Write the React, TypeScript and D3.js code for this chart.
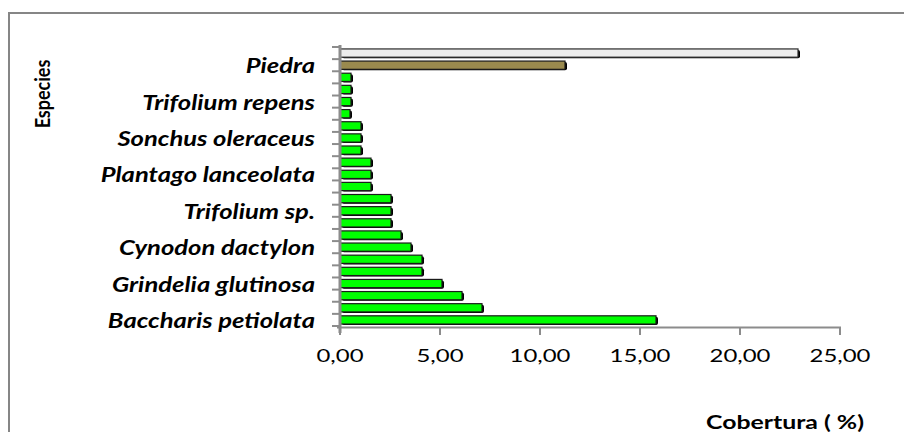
import React from "react";
import * as d3 from "d3";

// Categories top to bottom (only every third label is shown, as in the original)
const categories: string[] = [
  "", "Piedra", "", "", "Trifolium repens", "", "", "Sonchus oleraceus", "", "",
  "Plantago lanceolata", "", "", "Trifolium sp.", "", "", "Cynodon dactylon", "", "",
  "Grindelia glutinosa", "", "", "Baccharis petiolata",
];
const cobertura: number[] = [
  22.9, 11.25, 0.55, 0.55, 0.55, 0.5, 1.05, 1.05, 1.05, 1.55, 1.55, 1.55,
  2.55, 2.55, 2.55, 3.05, 3.55, 4.1, 4.1, 5.1, 6.1, 7.1, 15.8,
];
const xTicks: number[] = [0, 5, 10, 15, 20, 25];
const xTickLabels: string[] = ["0,00", "5,00", "10,00", "15,00", "20,00", "25,00"];

const barFill = (i: number) => (i === 0 ? "#EDEDED" : i === 1 ? "#9A8A4E" : "#00FF00");
const barStroke = (i: number) => (i === 0 ? "#2a2a2a" : "#1a1a1a");

const W = 904, H = 432;

export default function App() {
  const x = d3.scaleLinear().domain([0, 25]).range([340, 840]);
  const idx = categories.map((_, i) => i);
  const y = d3.scaleBand<number>().domain(idx).range([47, 326]).paddingInner(0.32).paddingOuter(0.16);
  const bandTop = 47;
  const boundaries = d3.range(categories.length + 1).map((k) => bandTop + k * (279 / categories.length));

  const labelFont = "Lato, 'Open Sans', sans-serif";
  return (
    <svg width={W} height={H} style={{ position: "absolute", left: 0, top: 0 }}>
      <rect x={0} y={0} width={W} height={H} fill="#fff" />
      {/* outer frame */}
      <rect x={9} y={13} width={1000} height={1000} fill="none" stroke="#868686" strokeWidth={2} />

      {/* bars */}
      {cobertura.map((v, i) => {
        const by = y(i)!;
        const bh = y.bandwidth();
        const bw = x(v) - x(0);
        return (
          <g key={i}>
            <rect x={x(0) + 2} y={by + 1} width={bw} height={bh} rx={2} fill="#000" />
            <rect x={x(0)} y={by} width={bw} height={bh} fill={barFill(i)} stroke={barStroke(i)} strokeWidth={1.2} />
          </g>
        );
      })}

      {/* y axis */}
      <line x1={340} x2={340} y1={45} y2={333} stroke="#8c8c8c" strokeWidth={3} />
      {boundaries.map((b, k) => (
        <line key={k} x1={332} x2={340} y1={b} y2={b} stroke="#8c8c8c" strokeWidth={2} />
      ))}
      {/* x axis */}
      <line x1={337} x2={841} y1={327.5} y2={327.5} stroke="#8c8c8c" strokeWidth={2} />
      {xTicks.map((t) => (
        <line key={t} x1={x(t)} x2={x(t)} y1={327} y2={335} stroke="#8c8c8c" strokeWidth={2} />
      ))}
      {xTicks.map((t, k) => (
        <text key={"l" + t} transform={`translate(${x(t)},362) scale(1.33,1)`} textAnchor="middle"
          fontFamily={labelFont} fontSize={18} fill="#000">{xTickLabels[k]}</text>
      ))}

      {/* category labels */}
      {categories.map((c, i) =>
        c ? (
          <text key={"c" + i} transform={`translate(315,${y(i)! + y.bandwidth() / 2 + 8}) scale(1.28,1)`}
            textAnchor="end" fontFamily={labelFont} fontWeight="bold" fontStyle="italic" fontSize={20} fill="#000">
            {c}
          </text>
        ) : null
      )}

      {/* axis titles */}
      <text transform={`translate(50,94) scale(1.2,1) rotate(-90)`} textAnchor="middle"
        fontFamily={labelFont} fontWeight="bold" fontSize={18} fill="#000">Especies</text>
      <text transform={`translate(785,429) scale(1.38,1)`} textAnchor="middle"
        fontFamily={labelFont} fontWeight="bold" fontSize={18} fill="#000">Cobertura ( %)</text>
    </svg>
  );
}
